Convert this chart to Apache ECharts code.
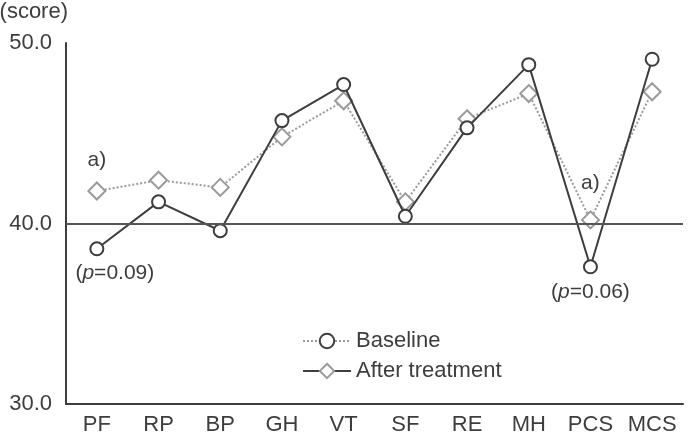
<!DOCTYPE html>
<html>
<head>
<meta charset="utf-8">
<script src="https://cdn.jsdelivr.net/npm/echarts@6/dist/echarts.min.js"></script>
<style>
  html, body { margin: 0; padding: 0; background: #fff; }
  #chart { width: 689px; height: 438px; }
</style>
</head>
<body>
<div id="chart"></div>
<script>
// SF-36 subscales
var categories = ["PF", "RP", "BP", "GH", "VT", "SF", "RE", "MH", "PCS", "MCS"];
var baseline = [38.6, 41.2, 39.6, 45.7, 47.7, 40.4, 45.3, 48.8, 37.6, 49.1];
var afterTreatment = [41.8, 42.4, 42.0, 44.8, 46.8, 41.2, 45.8, 47.2, 40.2, 47.3];
var yTicks = [30, 40, 50];

var font = "Liberation Sans, Arial, sans-serif";
var fs = 22;
var dark = "#3d3d3d";
var grey = "#9a9a9a";

var chart = echarts.init(document.getElementById("chart"));

// label helper for the "(p=..)" notes, p in italics
function pLabel(txt, dx, dist) {
  return {
    show: true,
    formatter: "{n|(}{i|p}{n|=" + txt + ")}",
    position: "bottom",
    distance: dist,
    offset: [dx, 0],
    rich: {
      n: { fontFamily: font, fontSize: fs - 1, color: dark },
      i: { fontFamily: font, fontSize: fs - 1, color: dark, fontStyle: "italic" }
    }
  };
}
function aLabel(dist) {
  return {
    show: true,
    formatter: "a)",
    position: "top",
    distance: dist,
    fontFamily: font,
    fontSize: fs - 1,
    color: dark
  };
}

chart.setOption({
  animation: false,
  grid: { left: 66, right: 6, top: 43, bottom: 34, containLabel: false, outerBoundsMode: "none" },
  legend: {
    orient: "vertical",
    left: 297,
    top: 325,
    itemWidth: 48,
    itemHeight: 18,
    itemGap: 8,
    textStyle: { fontFamily: font, fontSize: fs, color: dark },
    // the legend in the figure shows the line styles swapped
    data: [
      { name: "Baseline", lineStyle: { type: "dotted", color: grey, width: 2 } },
      { name: "After treatment", lineStyle: { type: "solid", color: dark, width: 2 } }
    ]
  },
  xAxis: {
    type: "category",
    data: categories,
    boundaryGap: true,
    axisLine: { lineStyle: { color: dark, width: 2 } },
    axisTick: { inside: true, length: 7, lineStyle: { color: dark, width: 2 } },
    axisLabel: { fontFamily: font, fontSize: fs, color: dark, margin: 10, interval: 0, hideOverlap: false }
  },
  yAxis: {
    type: "value",
    min: yTicks[0],
    max: yTicks[yTicks.length - 1],
    interval: 10,
    name: "(score)",
    nameLocation: "end",
    nameGap: 20,
    nameTextStyle: { fontFamily: font, fontSize: fs, color: dark, align: "right", padding: [0, -2, 0, 0] },
    axisLine: { show: true, lineStyle: { color: dark, width: 2 } },
    axisTick: { show: false },
    splitLine: { show: false },
    axisLabel: {
      fontFamily: font, fontSize: fs, color: dark, margin: 14,
      formatter: function (v) { return v.toFixed(1); }
    }
  },
  series: [
    {
      name: "After treatment",
      type: "line",
      data: afterTreatment,
      symbol: "diamond",
      symbolSize: 17,
      itemStyle: { color: "#fff", borderColor: grey, borderWidth: 2 },
      lineStyle: { color: grey, width: 2, type: "dotted" },
      z: 2,
      markLine: {
        silent: true,
        symbol: "none",
        label: { show: false },
        lineStyle: { color: "#555", width: 2, type: "solid" },
        data: [{ yAxis: 40 }]
      },
      markPoint: {
        symbol: "circle",
        symbolSize: 0,
        data: [
          { coord: ["PF", afterTreatment[0]], label: aLabel(20) },
          { coord: ["PCS", afterTreatment[8]], label: aLabel(26) }
        ]
      }
    },
    {
      name: "Baseline",
      type: "line",
      data: baseline,
      symbol: "circle",
      symbolSize: 13,
      itemStyle: { color: "#fff", borderColor: dark, borderWidth: 2 },
      lineStyle: { color: dark, width: 2, type: "solid" },
      z: 3,
      markPoint: {
        symbol: "circle",
        symbolSize: 0,
        data: [
          { coord: ["PF", baseline[0]], label: pLabel("0.09", 18, 14) },
          { coord: ["PCS", baseline[8]], label: pLabel("0.06", 0, 15) }
        ]
      }
    }
  ]
});
</script>
</body>
</html>
